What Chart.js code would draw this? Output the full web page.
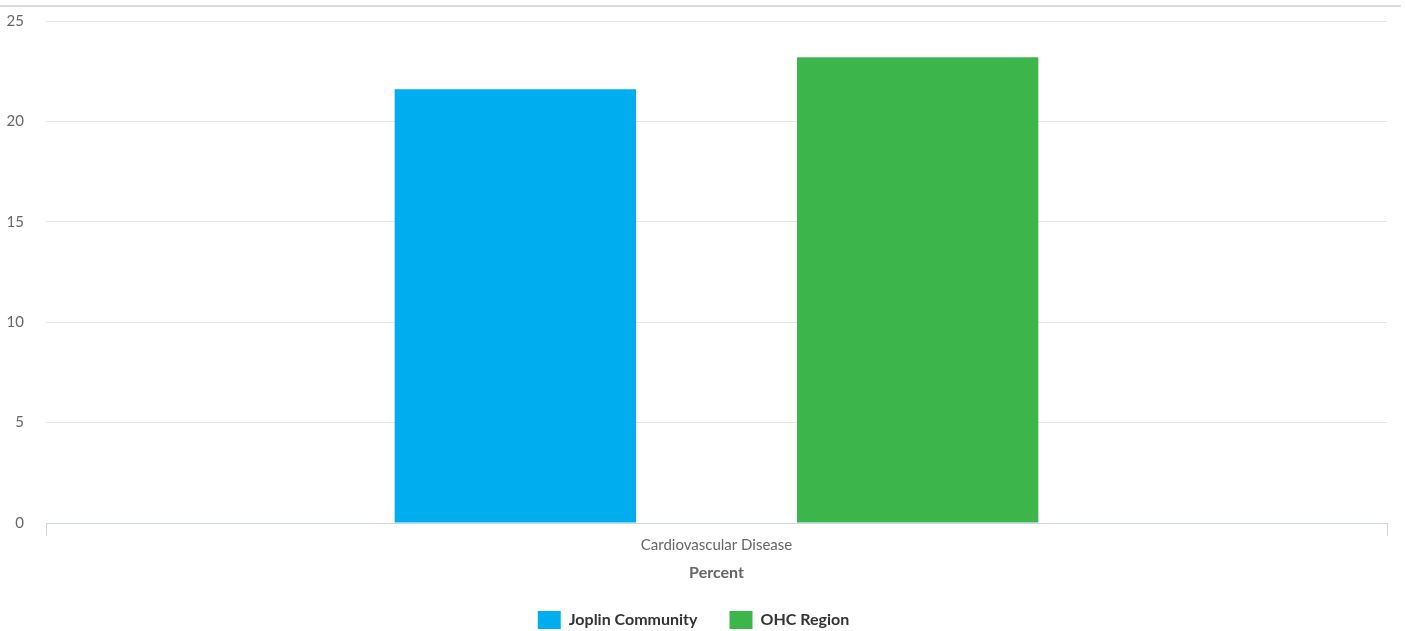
<!DOCTYPE html>
<html>
<head>
<meta charset="utf-8">
<script src="https://cdn.jsdelivr.net/npm/chart.js@4/dist/chart.umd.min.js"></script>
<style>
  body { margin: 0; background: #fff; }
  #wrap { position: relative; width: 1405px; height: 631px; }
  #topline { position: absolute; left: 0; top: 5px; width: 1401px; height: 2px; background: #dcdcdc; }
  #chart { position: absolute; left: 0; top: 0; }
</style>
</head>
<body>
<div id="wrap">
  <div id="topline"></div>
  <canvas id="chart" width="1405" height="631"></canvas>
</div>
<script>
const categories = ['Cardiovascular Disease']
const seriesNames = ['Joplin Community', 'OHC Region']
const joplinValues = [21.6]
const ohcValues = [23.2]
const yTicks = [0, 5, 10, 15, 20, 25]

const colors = ['#00aeef', '#3cb64a']
const font = 'Lato, "Source Sans Pro", sans-serif'

Chart.defaults.font.family = font
Chart.defaults.animation = false

new Chart('chart', {
    type: 'bar',
    data: {
        labels: categories,
        datasets: [
            { label: seriesNames[0], data: joplinValues, backgroundColor: colors[0] },
            { label: seriesNames[1], data: ohcValues, backgroundColor: colors[1] }
        ]
    },
    options: {
        responsive: false,
        categoryPercentage: 0.6,
        barPercentage: 0.6,
        layout: { padding: { top: 21, right: 18, bottom: -8, left: 0 } },
        plugins: {
            legend: {
                position: 'bottom',
                labels: {
                    boxWidth: 23,
                    boxHeight: 18,
                    padding: 32,
                    color: '#333',
                    font: { size: 16, weight: 'bold' }
                }
            },
            tooltip: { enabled: false }
        },
        scales: {
            x: {
                grid: { offset: true, drawOnChartArea: false, tickLength: 13, color: '#ccd6eb' },
                border: { color: '#ccd6eb', width: 1 },
                ticks: { color: '#666', font: { size: 15 }, padding: 0 },
                title: { display: true, text: 'Percent', color: '#666', font: { size: 16, weight: 'bold', lineHeight: 1 }, padding: { top: 11, bottom: -2 } }
            },
            y: {
                min: 0,
                max: 25,
                afterBuildTicks: s => { s.ticks = yTicks.map(v => ({ value: v })) },
                afterFit: s => { s.width = 46 },
                grid: { color: '#e6e6e6', drawTicks: true, tickLength: 22, tickColor: 'rgba(0,0,0,0)' },
                border: { display: false },
                ticks: { color: '#666', font: { size: 15 }, padding: 0 }
            }
        }
    }
})
</script>
</body>
</html>
